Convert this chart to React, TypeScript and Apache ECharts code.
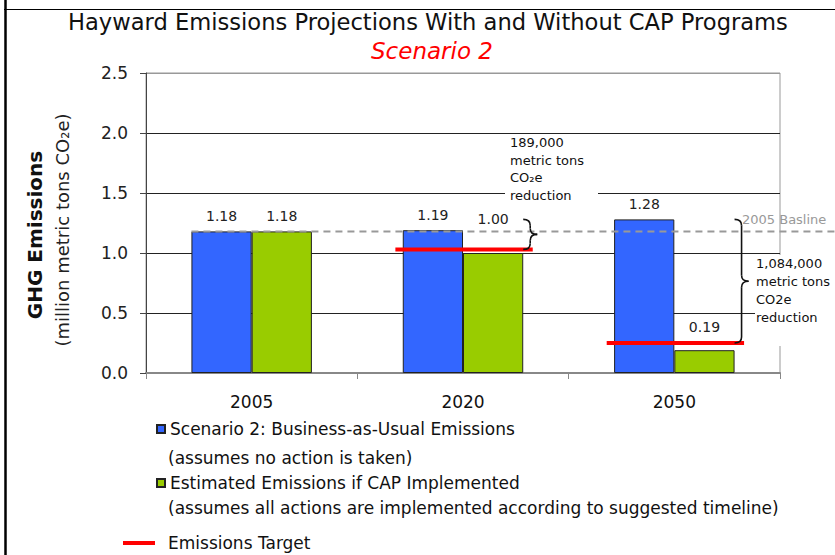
import React, { useEffect, useRef } from "react";
import * as echarts from "echarts";

// ---- data ----
const categories = ["2005", "2020", "2050"];
const businessAsUsual = [1.18, 1.19, 1.28];
const capImplemented = [1.18, 1.0, 0.19];
const targetYears = ["2020", "2050"];
const targetValues = [1.03, 0.25];
const baselineValue = 1.18;
const braceYears = ["2020", "2050"];
const braceTop = [1.28, 1.28];
const braceBottom = [1.03, 0.25];
const yTickMin = 0;
const yTickMax = 2.5;
const yTickStep = 0.5;

const seriesNames = [
  "Scenario 2: Business-as-Usual Emissions",
  "Estimated Emissions if CAP Implemented",
  "Emissions Target",
];
const legendSubLines = [
  "(assumes no action is taken)",
  "(assumes all actions are implemented according to suggested timeline)",
];

const FONT = "DejaVu Sans";
const capLabelShift = [0, -19, -8];

function buildOption(): any {
  const idx = (y: string) => categories.indexOf(y);
  return {
    animation: false,
    backgroundColor: "#ffffff",
    textStyle: { fontFamily: FONT },
    title: [
      {
        text: "Hayward Emissions Projections With and Without CAP Programs",
        left: 68,
        top: 9,
        padding: 0,
        textStyle: { fontFamily: FONT, fontSize: 22.6, fontWeight: "normal", color: "#111", lineHeight: 26 },
      },
      {
        text: "Scenario 2",
        left: 371,
        top: 38,
        padding: 0,
        textStyle: {
          fontFamily: FONT,
          fontSize: 23,
          fontWeight: "normal",
          fontStyle: "italic",
          color: "#FF0000",
          lineHeight: 26,
        },
      },
    ],
    grid: {
      left: 146,
      top: 73,
      width: 634,
      height: 300,
      show: true,
      borderColor: "#999",
      borderWidth: 1,
      backgroundColor: "transparent",
    },
    xAxis: {
      type: "category",
      data: categories,
      axisLine: { lineStyle: { color: "#888", width: 2 } },
      axisTick: { show: true, length: 6, lineStyle: { color: "#888" } },
      axisLabel: { fontSize: 17, color: "#111", margin: 20, fontFamily: FONT },
    },
    yAxis: {
      type: "value",
      min: yTickMin,
      max: yTickMax,
      interval: yTickStep,
      axisLine: { show: true, lineStyle: { color: "#444" } },
      axisTick: { show: true, length: 6, lineStyle: { color: "#444" } },
      axisLabel: {
        fontSize: 17,
        color: "#222",
        margin: 18,
        fontFamily: FONT,
        formatter: (v: number) => v.toFixed(1),
      },
      splitLine: { lineStyle: { color: ["#888", "#222", "#222", "#222", "#222", "#999"], width: 1 } },
    },
    legend: [
      {
        data: [seriesNames[0]],
        left: 156,
        top: 419,
        padding: 0,
        icon: "rect",
        itemWidth: 8,
        itemHeight: 8,
        textStyle: { fontSize: 17, color: "#111", lineHeight: 20, fontFamily: FONT },
      },
      {
        data: [seriesNames[1]],
        left: 156,
        top: 473,
        padding: 0,
        icon: "rect",
        itemWidth: 8,
        itemHeight: 8,
        textStyle: { fontSize: 17, color: "#111", lineHeight: 20, fontFamily: FONT },
      },
      {
        data: [seriesNames[2]],
        left: 123,
        top: 533,
        padding: 0,
        icon: "rect",
        itemWidth: 32,
        itemHeight: 4,
        textStyle: { fontSize: 17, color: "#111", lineHeight: 20, fontFamily: FONT, padding: [0, 0, 0, 8] },
      },
    ],
    series: [
      {
        name: seriesNames[0],
        type: "bar",
        data: businessAsUsual,
        barGap: "0%",
        barCategoryGap: "43%",
        z: 2,
        itemStyle: { color: "#3366FF", borderColor: "#222", borderWidth: 1 },
        label: {
          show: true,
          position: "top",
          distance: 8,
          fontSize: 14,
          color: "#222",
          fontFamily: FONT,
          formatter: (p: any) => Number(p.value).toFixed(2),
        },
      },
      {
        name: seriesNames[1],
        type: "bar",
        data: capImplemented.map((v, i) => ({ value: v, label: { offset: [0, capLabelShift[i]] } })),
        barGap: "0%",
        barCategoryGap: "43%",
        z: 2,
        itemStyle: { color: "#99CC00", borderColor: "#222", borderWidth: 1 },
        label: {
          show: true,
          position: "top",
          distance: 8,
          fontSize: 14,
          color: "#222",
          fontFamily: FONT,
          formatter: (p: any) => Number(p.value).toFixed(2),
        },
      },
      {
        name: seriesNames[2],
        type: "custom",
        z: 5,
        encode: { x: 0, y: 1 },
        itemStyle: { color: "#FF0000" },
        data: targetYears.map((y, i) => [idx(y), targetValues[i]]),
        renderItem: (params: any, api: any) => {
          const c = api.coord([api.value(0), api.value(1)]);
          const w = api.size([1, 0])[0];
          return {
            type: "line",
            shape: { x1: c[0] - 0.32 * w, y1: c[1], x2: c[0] + 0.33 * w, y2: c[1] },
            style: { stroke: "#FF0000", lineWidth: 4 },
          };
        },
      },
      {
        name: "2005 Baseline",
        type: "custom",
        z: 4,
        silent: true,
        encode: { x: 0, y: 1 },
        data: [[0, baselineValue]],
        renderItem: (params: any, api: any) => {
          const c = api.coord([api.value(0), api.value(1)]);
          const w = api.size([1, 0])[0];
          const right = params.coordSys.x + params.coordSys.width + 60;
          return {
            type: "line",
            shape: { x1: c[0] - 0.285 * w, y1: c[1], x2: right, y2: c[1] },
            style: { stroke: "#999", lineWidth: 2, lineDash: [7, 5] },
          };
        },
      },
      {
        name: "Reduction brace",
        type: "custom",
        z: 6,
        silent: true,
        encode: { x: 0, y: [1, 2] },
        data: braceYears.map((y, i) => [idx(y), braceTop[i], braceBottom[i]]),
        renderItem: (params: any, api: any) => {
          const top = api.coord([api.value(0), api.value(1)]);
          const bot = api.coord([api.value(0), api.value(2)]);
          const w = api.size([1, 0])[0];
          const x0 = top[0] + 0.285 * w;
          const r = 7;
          const ry = 6;
          const t = top[1];
          const b = bot[1];
          const m = (t + b) / 2;
          const st = { stroke: "#111", lineWidth: 1.6, fill: "none" };
          return {
            type: "group",
            children: [
              { type: "bezierCurve", shape: { x1: x0, y1: t, cpx1: x0 + r, cpy1: t, x2: x0 + r, y2: t + ry }, style: st },
              { type: "line", shape: { x1: x0 + r, y1: t + ry, x2: x0 + r, y2: m - ry }, style: st },
              { type: "bezierCurve", shape: { x1: x0 + r, y1: m - ry, cpx1: x0 + r, cpy1: m, x2: x0 + 2 * r, y2: m }, style: st },
              { type: "bezierCurve", shape: { x1: x0 + 2 * r, y1: m, cpx1: x0 + r, cpy1: m, x2: x0 + r, y2: m + ry }, style: st },
              { type: "line", shape: { x1: x0 + r, y1: m + ry, x2: x0 + r, y2: b - ry }, style: st },
              { type: "bezierCurve", shape: { x1: x0 + r, y1: b - ry, cpx1: x0 + r, cpy1: b, x2: x0, y2: b }, style: st },
            ],
          };
        },
      },
    ],
    graphic: [
      // outer frame
      { type: "line", z: 100, shape: { x1: 4, y1: 9.5, x2: 835, y2: 9.5 }, style: { stroke: "#000", lineWidth: 1 } },
      { type: "line", z: 100, shape: { x1: 5.5, y1: 0, x2: 5.5, y2: 555 }, style: { stroke: "#000", lineWidth: 2.5 } },
      // y-axis title
      {
        type: "text",
        z: 101,
        x: 35,
        y: 235,
        rotation: Math.PI / 2,
        style: {
          text: "GHG Emissions",
          fontSize: 20,
          fontWeight: "bold",
          fontFamily: FONT,
          fill: "#111",
          textAlign: "center",
          textVerticalAlign: "middle",
        },
      },
      {
        type: "text",
        z: 101,
        x: 62,
        y: 230,
        rotation: Math.PI / 2,
        style: {
          text: "(million metric tons CO₂e)",
          fontSize: 18,
          fontFamily: FONT,
          fill: "#222",
          textAlign: "center",
          textVerticalAlign: "middle",
        },
      },
      // 189,000 annotation
      { type: "rect", z: 100, shape: { x: 505, y: 134, width: 93, height: 70 }, style: { fill: "#fff" } },
      {
        type: "text",
        z: 101,
        x: 510,
        y: 134,
        style: {
          text: "189,000\nmetric tons\nCO₂e\nreduction",
          fontSize: 13,
          fontFamily: FONT,
          lineHeight: 17.5,
          fill: "#111",
          textVerticalAlign: "top",
        },
      },
      // 1,084,000 annotation
      { type: "rect", z: 100, shape: { x: 755, y: 255, width: 80, height: 91 }, style: { fill: "#fff" } },
      {
        type: "text",
        z: 101,
        x: 756,
        y: 254,
        style: {
          text: "1,084,000\nmetric tons\nCO2e\nreduction",
          fontSize: 13,
          fontFamily: FONT,
          lineHeight: 18,
          fill: "#111",
          textVerticalAlign: "top",
        },
      },
      // baseline label
      {
        type: "text",
        z: 101,
        x: 742,
        y: 219,
        style: { text: "2005 Basline", fontSize: 13, fontFamily: FONT, fill: "#999", textVerticalAlign: "middle" },
      },
      // legend second lines
      {
        type: "text",
        z: 101,
        x: 168,
        y: 458,
        style: { text: legendSubLines[0], fontSize: 17, fontFamily: FONT, fill: "#111", textVerticalAlign: "middle" },
      },
      {
        type: "text",
        z: 101,
        x: 168,
        y: 508,
        style: { text: legendSubLines[1], fontSize: 17, fontFamily: FONT, fill: "#111", textVerticalAlign: "middle" },
      },
    ],
  };
}

export default function App() {
  const ref = useRef<HTMLDivElement>(null);
  useEffect(() => {
    if (!ref.current) return;
    const chart = echarts.init(ref.current, null, { renderer: "svg" });
    chart.setOption(buildOption());
    return () => {
      chart.dispose();
    };
  }, []);
  return (
    <div
      ref={ref}
      style={{ position: "absolute", left: 0, top: 0, width: 835, height: 555, background: "#fff" }}
    />
  );
}
